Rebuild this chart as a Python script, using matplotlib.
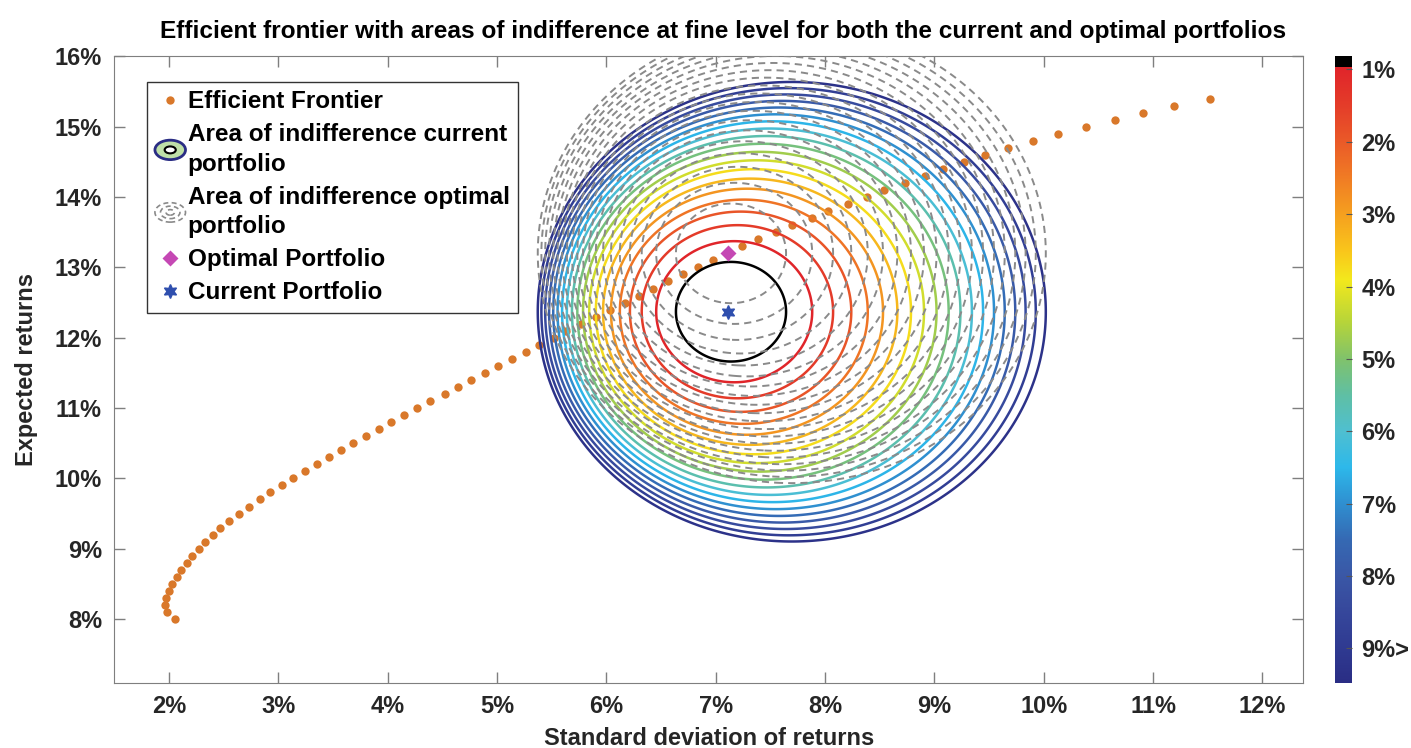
import numpy as np
import matplotlib.pyplot as plt
from matplotlib.colors import LinearSegmentedColormap, Normalize
from matplotlib.cm import ScalarMappable
from matplotlib.legend_handler import HandlerBase
from matplotlib.lines import Line2D
from matplotlib.patches import Ellipse

plt.rcParams['font.family'] = ['Liberation Sans', 'DejaVu Sans']
plt.rcParams['font.weight'] = 'bold'
plt.rcParams['axes.titleweight'] = 'bold'
plt.rcParams['axes.labelweight'] = 'bold'

# efficient frontier: expected return (%) and standard deviation (%)
frontier_ret = [8.0, 8.1, 8.2, 8.3, 8.4, 8.5, 8.6, 8.7, 8.8, 8.9,
                9.0, 9.1, 9.2, 9.3, 9.4, 9.5, 9.6, 9.7, 9.8, 9.9,
                10.0, 10.1, 10.2, 10.3, 10.4, 10.5, 10.6, 10.7, 10.8, 10.9,
                11.0, 11.1, 11.2, 11.3, 11.4, 11.5, 11.6, 11.7, 11.8, 11.9,
                12.0, 12.1, 12.2, 12.3, 12.4, 12.5, 12.6, 12.7, 12.8, 12.9,
                13.0, 13.1, 13.2, 13.3, 13.4, 13.5, 13.6, 13.7, 13.8, 13.9,
                14.0, 14.1, 14.2, 14.3, 14.4, 14.5, 14.6, 14.7, 14.8, 14.9,
                15.0, 15.1, 15.2, 15.3, 15.4]
frontier_std = [2.05, 1.98, 1.96, 1.97, 2.00, 2.03, 2.07, 2.11, 2.16, 2.21,
                2.27, 2.33, 2.40, 2.47, 2.55, 2.64, 2.73, 2.83, 2.92, 3.03,
                3.13, 3.24, 3.35, 3.46, 3.57, 3.68, 3.80, 3.92, 4.03, 4.15,
                4.27, 4.39, 4.52, 4.64, 4.76, 4.89, 5.01, 5.14, 5.26, 5.38,
                5.52, 5.63, 5.77, 5.90, 6.03, 6.17, 6.30, 6.43, 6.56, 6.70,
                6.84, 6.97, 7.11, 7.24, 7.39, 7.55, 7.70, 7.88, 8.03, 8.21,
                8.38, 8.54, 8.73, 8.91, 9.08, 9.27, 9.46, 9.67, 9.90, 10.13,
                10.39, 10.65, 10.91, 11.19, 11.52]

optimal_std, optimal_ret = 7.11, 13.2
current_std, current_ret = 7.11, 12.37

# indifference areas (levels in %), shape
levels = [0.5, 1.0, 1.5, 2.0, 2.5, 3.0, 3.5, 4.0, 4.5, 5.0,
          5.5, 6.0, 6.5, 7.0, 7.5, 8.0, 8.5, 9.0, 9.5, 10.0]
spread_std = 0.711
spread_ret = 1.0
skew = 4.32

cbar_ticks = [1, 2, 3, 4, 5, 6, 7, 8, 9]
cbar_labels = ['1%', '2%', '3%', '4%', '5%', '6%', '7%', '8%', '9%>']
x_ticks = [2, 3, 4, 5, 6, 7, 8, 9, 10, 11, 12]
y_ticks = [8, 9, 10, 11, 12, 13, 14, 15, 16]

vmin, vmax = 0.82, 9.48
stops = [(0.82, '#000000'), (0.97, '#000000'), (0.97, '#e0242a'), (1.5, '#e43d29'),
         (2.0, '#ea5a28'), (2.5, '#f07c24'), (3.0, '#f5a01f'), (3.5, '#f9c51b'),
         (3.9, '#f3e81c'), (4.5, '#b5d43a'), (5.0, '#80c26b'), (5.5, '#5fbfa4'),
         (6.0, '#4fbfd0'), (6.5, '#2db8ea'), (7.0, '#2f8fd0'), (7.5, '#3569b3'),
         (8.0, '#3a57a6'), (8.5, '#36479b'), (9.0, '#2f3a91'), (9.48, '#2a2d84')]
cmap = LinearSegmentedColormap.from_list(
    'indiff', [((v - vmin) / (vmax - vmin), c) for v, c in stops], N=1024)
norm = Normalize(vmin=vmin, vmax=vmax)
norm_lines = Normalize(vmin=0.80, vmax=10.2)


def indifference(X, Y, cx, cy):
    u = X - cx
    v = Y - cy
    return (u**2 / spread_std**2 + v**2 / spread_ret**2) / (1 + u / skew)


xs = np.linspace(3.0, 12.4, 700)
ys = np.linspace(7.0, 16.5, 700)
X, Y = np.meshgrid(xs, ys)
Zc = indifference(X, Y, current_std, current_ret)
Zo = indifference(X, Y, optimal_std, optimal_ret)

fig = plt.figure(figsize=(14.11, 7.48), dpi=100)
ax = fig.add_axes([0.0811, 0.0869, 0.8423, 0.8376])

ax.plot(frontier_std, frontier_ret, 'o', color='#d9782a', ms=6, mec='none', zorder=2)
ax.contour(X, Y, Zc, levels=levels, cmap=cmap, norm=norm_lines, linewidths=1.8, zorder=3)
ax.contour(X, Y, Zo, levels=levels, colors='#8a8a8a', linewidths=1.4,
           linestyles=[(0, (3.7, 2.6))], zorder=4)
ax.plot(optimal_std, optimal_ret, 'D', color='#c548b4', ms=8, mec='none', zorder=5)
ax.plot(current_std, current_ret, marker=(6, 1, 0), color='#2f4fae', ms=10,
        mec='#2f4fae', zorder=5)

ax.set_xlim(1.5, 12.37)
ax.set_ylim(7.09, 16.0)
ax.set_xticks(x_ticks)
ax.set_xticklabels([f'{t}%' for t in x_ticks])
ax.set_yticks(y_ticks)
ax.set_yticklabels([f'{t}%' for t in y_ticks])
for s in ax.spines.values():
    s.set_color('#7f7f7f')
ax.tick_params(direction='in', length=8, width=1, color='#7f7f7f', top=True, right=True,
               labelsize=17, labelcolor='#262626', pad=9)
ax.set_xlabel('Standard deviation of returns', fontsize=17, color='#262626', labelpad=6)
ax.set_ylabel('Expected returns', fontsize=17, color='#262626', labelpad=12)
ax.set_title('Efficient frontier with areas of indifference at fine level for both '
             'the current and optimal portfolios', fontsize=17.6, pad=13, x=0.512)


class RingHandler(HandlerBase):
    def __init__(self, rings):
        super().__init__()
        self.rings = rings

    def create_artists(self, legend, orig_handle, xdescent, ydescent,
                       width, height, fontsize, trans):
        cx = 0.5 * width - xdescent
        cy = 0.5 * height - ydescent
        return [Ellipse((cx, cy), w, h, transform=trans, **kw) for w, h, kw in self.rings]


cur_handle = Line2D([], [])
opt_handle = Line2D([], [], color='gray')
h_front = Line2D([], [], ls='none', marker='o', color='#d9782a', ms=6, mec='none')
h_opt = Line2D([], [], ls='none', marker='D', color='#c548b4', ms=8, mec='none')
h_cur = Line2D([], [], ls='none', marker=(6, 1, 0), color='#2f4fae', ms=10)
cur_rings = [(22, 14, dict(fc='#bfe0a8', ec='#2a2d84', lw=2)),
             (8, 5, dict(fc='white', ec='black', lw=1.5))]
opt_rings = [(22, 14, dict(fc='none', ec='#8a8a8a', lw=1.2, ls=(0, (3, 2)))),
             (14, 9, dict(fc='none', ec='#8a8a8a', lw=1.2, ls=(0, (3, 2)))),
             (6, 4, dict(fc='none', ec='#8a8a8a', lw=1.2, ls=(0, (3, 2))))]
leg = ax.legend([h_front, cur_handle, opt_handle, h_opt, h_cur],
                ['Efficient Frontier', 'Area of indifference current\nportfolio',
                 'Area of indifference optimal\nportfolio', 'Optimal Portfolio',
                 'Current Portfolio'],
                handler_map={cur_handle: RingHandler(cur_rings),
                             opt_handle: RingHandler(opt_rings)},
                loc='upper left', bbox_to_anchor=(0.027, 0.96), fontsize=17.5,
                frameon=True, fancybox=False, edgecolor='#333333', framealpha=1,
                handlelength=1.25, handletextpad=0.1, borderpad=0.35, labelspacing=0.42,
                borderaxespad=0)
for t in leg.get_texts():
    t.set_linespacing(1.35)
leg.get_frame().set_linewidth(1.0)

cax = fig.add_axes([0.9461, 0.0869, 0.012, 0.8376])
cb = fig.colorbar(ScalarMappable(norm=norm, cmap=cmap), cax=cax, ticks=cbar_ticks)
cb.ax.set_yticklabels(cbar_labels)
cb.ax.invert_yaxis()
cb.outline.set_visible(False)
cb.ax.tick_params(direction='in', length=4, width=0.8, color='#555555', labelsize=17,
                  labelcolor='#262626', pad=7)

fig.savefig('out.png', dpi=100)
